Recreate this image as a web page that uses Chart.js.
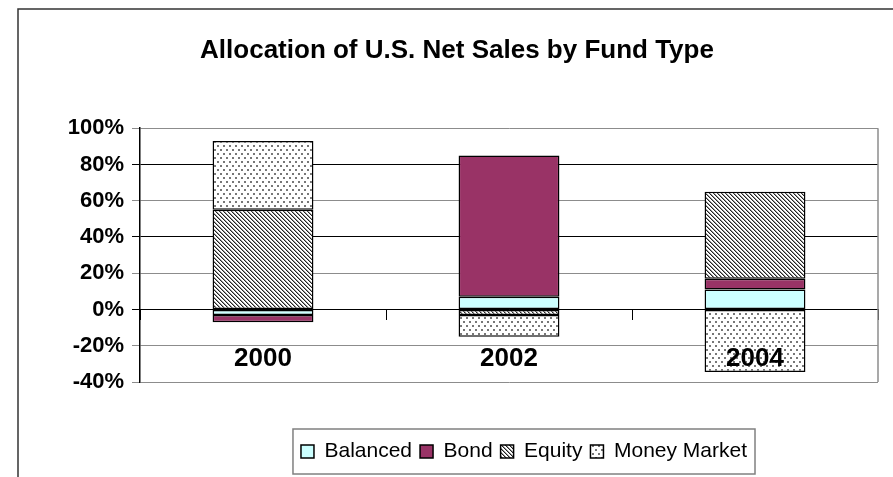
<!DOCTYPE html>
<html lang="en">
<head>
<meta charset="UTF-8">
<title>Allocation of U.S. Net Sales by Fund Type</title>
<style>
    body { margin: 0; background: #fff; }
    .wrap { position: relative; width: 893px; height: 477px; }
</style>
</head>
<body>
<div class="wrap"><canvas id="chart"></canvas></div>
<script src="https://cdn.jsdelivr.net/npm/chart.js"></script>
<script>
// values, in percent of net sales
const years = ['2000', '2002', '2004'];
const balanced = [-3, 7, 11];
const bond = [-4, 78, 6];
const equity = [55, -3, 48];
const moneyMarket = [38, -12, -34.5];
const yMin = -40, yMax = 100, yStep = 20;
const darkGridValues = [80, 40, 0];

Chart.defaults.font.family = 'Arial, "Liberation Sans", sans-serif';
Chart.defaults.color = '#000';

// hatch fills like the old Excel patterns
function stripePattern() {
    const c = document.createElement('canvas');
    c.width = 4; c.height = 4;
    const g = c.getContext('2d');
    g.fillStyle = '#fff';
    g.fillRect(0, 0, 4, 4);
    for (let i = 0; i < 4; i++) {
        g.fillStyle = '#222';
        g.fillRect(i, i, 1, 1);
        g.fillStyle = '#999';
        g.fillRect((i + 1) % 4, i, 1, 1);
    }
    return g.createPattern(c, 'repeat');
}

function dotPattern() {
    const c = document.createElement('canvas');
    c.width = 6; c.height = 8;
    const g = c.getContext('2d');
    g.fillStyle = '#fff';
    g.fillRect(0, 0, 6, 8);
    g.fillStyle = '#777';
    g.fillRect(1, 1, 2, 2);
    g.fillRect(4, 5, 2, 2);
    return g.createPattern(c, 'repeat');
}

const framePlugin = {
    id: 'frames',
    afterLayout(chart) {
        // Excel put the legend right of centre; slide it over
        const lg = chart.legend;
        const dx = 755 - lg.right;
        lg.left += dx;
        lg.right += dx;
    },
    beforeDraw(chart) {
        const ctx = chart.ctx;
        ctx.save();
        ctx.strokeStyle = '#333';
        ctx.lineWidth = 1.5;
        ctx.beginPath();
        ctx.moveTo(18, chart.height);
        ctx.lineTo(18, 9);
        ctx.lineTo(chart.width, 9);
        ctx.stroke();
        ctx.restore();
    },
    beforeDatasetsDraw(chart) {
        const {ctx, chartArea} = chart;
        ctx.save();
        ctx.strokeStyle = '#8c8c8c';
        ctx.lineWidth = 1.5;
        ctx.beginPath();
        ctx.moveTo(chartArea.right, chartArea.top);
        ctx.lineTo(chartArea.right, chartArea.bottom);
        ctx.stroke();
        ctx.restore();
    },
    afterDraw(chart) {
        const boxes = chart.legend.legendHitBoxes;
        if (!boxes || !boxes.length) return;
        const first = boxes[0], last = boxes[boxes.length - 1];
        const ctx = chart.ctx;
        ctx.save();
        ctx.strokeStyle = '#808080';
        ctx.lineWidth = 1.5;
        ctx.strokeRect(first.left - 8, first.top - 12,
            last.left + last.width + 16 - first.left, first.height + 24);
        ctx.restore();
    }
};

const barStyle = {
    borderColor: '#000',
    borderWidth: 1.5,
    borderSkipped: false,
    barPercentage: 0.41,
    categoryPercentage: 1
};

new Chart(document.getElementById('chart'), {
    type: 'bar',
    data: {
        labels: years,
        datasets: [
            Object.assign({label: 'Balanced', data: balanced, backgroundColor: '#ccffff'}, barStyle),
            Object.assign({label: 'Bond', data: bond, backgroundColor: '#993366'}, barStyle),
            Object.assign({label: 'Equity', data: equity, backgroundColor: stripePattern()}, barStyle),
            Object.assign({label: 'Money Market', data: moneyMarket, backgroundColor: dotPattern()}, barStyle)
        ]
    },
    options: {
        responsive: true,
        maintainAspectRatio: false,
        animation: false,
        events: [],
        layout: { padding: { left: 36, right: 15, top: 9, bottom: 5 } },
        plugins: {
            title: {
                display: true,
                text: 'Allocation of U.S. Net Sales by Fund Type',
                font: { size: 26, weight: 'bold' },
                padding: { top: 26, bottom: 62 }
            },
            legend: {
                position: 'bottom',
                align: 'end',
                labels: {
                    boxWidth: 13,
                    boxHeight: 13,
                    padding: 8,
                    font: { size: 21 }
                }
            },
            tooltip: { enabled: false }
        },
        scales: {
            x: {
                stacked: true,
                position: { y: 0 },
                grid: { drawOnChartArea: false, drawTicks: true, tickLength: 10, color: '#000' },
                border: { display: true, color: '#000', width: 1 },
                ticks: { z: 1, padding: 24, font: { size: 26, weight: 'bold' } }
            },
            // empty strip that keeps the gap between plot and legend
            gap: {
                type: 'category',
                position: 'bottom',
                afterFit(scale) { scale.height = 51; },
                grid: { display: false },
                border: { display: false },
                ticks: { display: false }
            },
            y: {
                stacked: true,
                min: yMin,
                max: yMax,
                afterFit(scale) { scale.width = 104; },
                grid: {
                    tickLength: 8,
                    color: (c) => darkGridValues.includes(c.tick.value) ? '#000' : '#8c8c8c'
                },
                border: { display: true, color: '#000', width: 1.5 },
                ticks: {
                    stepSize: yStep,
                    padding: 8,
                    font: { size: 22, weight: 'bold' },
                    callback: (v) => v + '%'
                }
            }
        }
    },
    plugins: [framePlugin]
});
</script>
</body>
</html>
